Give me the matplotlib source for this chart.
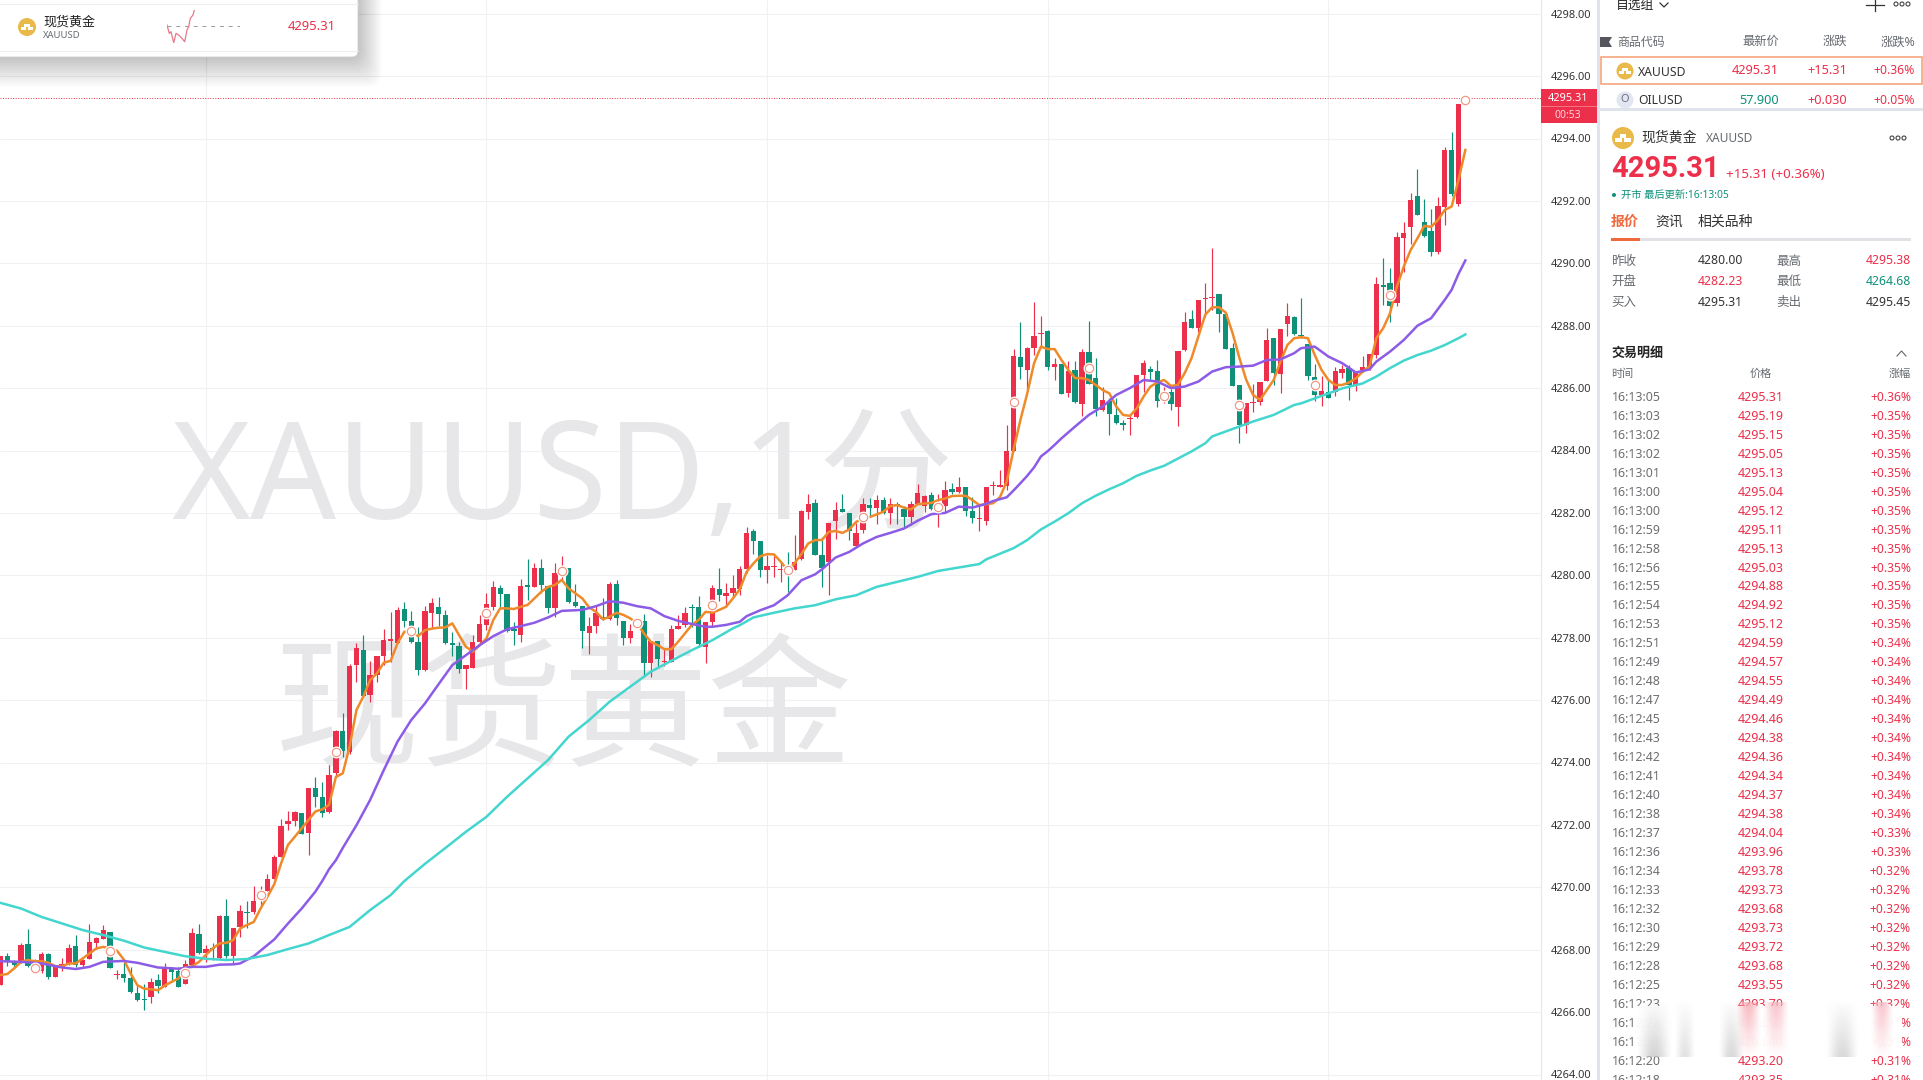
"""
plot.py
-------
Static recreation of a XAUUSD 1-minute candlestick screen with a quote side panel.
"""
import numpy as np
import matplotlib
matplotlib.use("Agg")
import matplotlib.pyplot as plt
from matplotlib.patches import Rectangle, Circle, FancyBboxPatch

W, H = 1923, 1080
BASE = 4000

# candles, one per minute, price minus BASE
opens = [
    266.86,267.79,267.61,267.58,268.18,267.63,267.32,267.86,267.13,267.43,
    267.54,268.11,267.52,267.70,268.22,268.35,268.56,267.19,267.22,267.09,
    266.60,266.42,266.49,267.02,266.81,267.40,267.32,266.90,267.51,268.49,
    267.88,268.05,267.75,269.08,267.79,268.73,269.22,269.20,269.70,269.89,
    270.28,270.98,272.04,272.14,272.37,271.75,273.17,272.88,272.42,273.65,
    275.01,274.35,277.12,277.60,276.16,276.80,277.41,277.90,277.82,278.92,
    278.53,277.86,276.96,278.80,278.99,278.73,277.82,277.73,277.01,277.02,
    277.86,278.41,278.99,279.58,279.40,278.27,278.08,279.69,279.61,280.23,
    279.67,278.94,280.19,280.22,279.13,279.01,278.16,278.37,278.65,278.59,
    279.72,278.54,277.98,278.45,278.54,277.20,277.89,277.22,277.23,278.29,
    278.41,278.99,278.97,277.71,278.51,279.55,279.35,279.42,279.55,280.19,
    281.42,281.09,280.17,280.28,280.17,280.19,280.17,280.51,282.04,282.32,
    280.65,280.43,281.75,282.14,282.01,280.93,281.45,282.24,282.15,282.41,
    282.00,282.27,282.14,281.87,282.30,282.22,282.57,282.15,282.22,282.76,
    282.66,282.82,282.06,281.81,281.75,282.86,282.83,282.87,284.00,287.00,
    286.58,287.30,287.74,287.84,286.69,286.78,285.85,286.58,285.49,287.16,
    286.31,285.30,285.59,285.14,284.88,285.00,285.06,286.42,286.61,286.55,
    285.83,285.89,285.38,287.22,288.22,287.92,288.86,288.89,289.02,288.38,
    287.28,286.10,284.82,285.51,285.57,286.24,287.61,286.44,288.04,288.29,
    287.70,287.40,286.35,285.78,285.88,285.89,286.48,286.65,286.10,286.57,
    286.66,287.06,289.32,289.36,288.72,290.82,291.17,292.16,291.31,291.04,
    290.37,291.81,293.63,291.90,
]
closes = [
    267.79,267.61,267.52,268.15,267.47,267.67,267.86,267.11,267.43,267.54,
    268.07,267.52,267.67,268.24,268.36,268.62,267.42,267.22,267.09,266.64,
    266.38,266.39,266.96,266.85,267.41,267.28,266.81,267.54,268.52,267.90,
    268.01,268.03,269.08,267.79,268.69,269.23,269.19,269.55,269.82,270.27,
    270.96,271.97,272.12,272.40,271.72,273.17,272.90,272.37,273.60,275.02,
    274.38,277.09,277.68,276.14,276.80,277.41,277.92,277.96,278.89,278.54,
    277.85,276.98,278.85,279.10,278.76,277.82,277.77,276.99,277.11,277.87,
    278.44,279.08,279.61,279.40,278.22,278.22,279.66,279.61,280.22,279.69,
    278.94,280.08,280.24,279.15,279.01,278.22,278.37,278.78,278.61,279.72,
    278.64,278.00,278.22,278.49,277.20,277.90,277.33,277.25,278.28,278.37,
    278.78,278.94,277.79,278.49,279.58,279.37,279.42,279.58,280.19,281.34,
    281.11,280.17,280.29,280.31,280.21,280.14,280.44,282.07,282.28,280.65,
    280.22,281.69,282.09,282.04,281.43,281.34,282.28,282.17,282.41,282.00,
    282.28,282.21,281.87,282.30,282.65,282.54,282.12,282.22,282.75,282.68,
    282.82,282.07,281.85,281.83,282.82,282.89,282.91,283.97,287.03,286.69,
    287.29,287.67,287.77,286.69,286.76,285.82,286.55,285.54,287.17,286.13,
    285.33,285.62,285.17,284.87,284.83,285.04,286.42,286.81,286.53,285.59,
    285.89,285.49,287.19,288.11,287.94,288.83,288.89,288.92,288.38,287.26,
    286.08,284.82,285.53,285.54,286.19,287.54,286.48,287.89,288.31,287.74,
    287.67,286.39,285.78,285.91,285.69,286.55,286.61,286.10,286.53,286.68,
    287.09,289.33,289.25,288.64,290.83,290.96,292.03,291.55,290.88,290.37,
    291.84,293.63,292.22,295.11,
]
highs = [
    267.79,267.88,267.67,268.22,268.65,267.69,267.92,267.88,267.47,267.72,
    268.17,268.47,267.69,268.82,268.41,268.80,268.56,267.35,267.67,267.43,
    266.83,266.90,267.08,267.21,267.56,267.43,267.45,267.67,268.68,268.82,
    268.14,268.20,269.11,269.64,268.71,269.43,269.57,270.04,270.04,270.43,
    271.04,272.18,272.43,272.46,272.37,273.17,273.54,273.36,273.92,275.04,
    275.60,277.16,277.84,278.08,277.26,277.41,278.27,278.83,278.97,279.15,
    278.85,278.35,279.01,279.26,279.31,278.89,278.19,277.85,277.11,278.08,
    278.73,279.42,279.82,279.69,279.40,278.51,279.87,280.51,280.40,280.51,
    279.67,280.41,280.62,280.22,279.72,279.01,278.65,279.05,279.26,279.79,
    279.85,278.54,278.44,278.57,278.76,277.90,277.89,277.66,278.41,278.73,
    278.99,279.08,279.33,278.49,279.69,280.22,279.74,280.01,280.30,281.55,
    281.50,281.09,280.65,280.68,280.38,280.75,281.29,282.09,282.60,282.43,
    281.23,281.69,282.36,282.60,282.01,281.68,282.49,282.49,282.57,282.52,
    282.49,282.36,282.22,282.39,282.94,282.57,282.68,282.60,283.03,282.97,
    283.14,282.82,282.50,282.25,282.82,283.03,283.37,284.82,287.25,288.11,
    287.33,288.77,288.31,287.86,286.96,286.78,286.88,286.88,287.25,288.16,
    286.96,286.03,285.67,285.67,284.98,285.14,286.42,286.90,286.71,286.90,
    286.05,285.96,287.19,288.45,288.51,288.83,289.38,290.48,289.02,288.38,
    287.46,286.10,285.53,286.13,286.19,287.92,287.61,287.89,288.72,288.31,
    288.88,287.40,286.77,286.39,286.26,286.69,286.74,286.74,286.53,287.03,
    287.09,289.57,290.18,289.84,291.00,291.33,292.24,293.02,292.06,291.74,
    292.11,293.74,294.22,295.11,
]
lows = [
    266.86,267.47,267.40,267.58,267.43,267.56,267.26,267.07,267.13,267.32,
    267.52,267.43,267.43,267.70,268.01,268.33,267.40,267.07,266.97,266.62,
    266.36,266.06,266.28,266.62,266.79,266.97,266.79,266.90,267.43,267.86,
    267.61,267.67,267.69,267.75,267.56,268.41,268.71,269.16,269.43,269.89,
    270.28,270.98,271.84,271.97,271.70,271.04,272.58,272.26,272.39,273.52,
    274.19,274.27,276.59,276.14,275.95,276.59,277.12,277.23,277.82,278.35,
    277.82,276.80,276.94,278.30,278.37,277.80,277.41,276.88,276.34,277.02,
    277.82,278.24,278.89,278.97,278.19,277.76,277.86,279.21,279.61,279.42,
    278.78,278.67,279.85,279.12,278.99,277.66,277.48,278.14,278.57,278.57,
    278.41,277.76,277.82,278.41,276.73,276.73,277.07,277.09,277.23,278.29,
    278.35,278.35,277.71,277.18,278.33,279.19,279.01,279.26,279.37,280.06,
    280.68,279.95,279.76,279.95,279.79,279.47,280.17,280.49,281.82,280.65,
    279.63,279.36,281.15,282.04,281.13,280.91,281.36,281.90,281.64,281.98,
    281.64,281.64,281.55,281.61,282.30,282.04,282.09,281.55,282.04,282.61,
    282.65,281.90,281.69,281.43,281.61,282.57,282.82,282.73,284.00,286.28,
    285.97,287.06,287.28,286.58,286.26,285.82,285.70,285.51,285.11,286.13,
    285.11,285.28,284.50,284.85,284.66,284.50,285.03,285.86,286.26,285.38,
    285.51,285.30,284.79,287.20,287.92,287.81,288.27,288.51,287.81,287.26,
    286.08,284.23,284.55,285.25,285.46,286.24,286.10,285.83,287.68,287.70,
    287.60,286.26,285.60,285.43,285.69,285.75,286.31,285.62,285.91,286.53,
    286.58,286.95,288.66,288.13,288.63,289.73,290.62,291.55,290.85,290.24,
    290.30,291.23,292.16,291.84,
]

# fast average, read bar by bar (one extra point past the last candle)
ma_fast = [
    267.19,267.22,267.40,267.61,267.67,267.63,267.63,267.58,267.47,267.47,
    267.56,267.56,267.72,267.88,268.04,268.09,268.04,267.97,267.69,267.24,
    266.86,266.75,266.73,266.70,266.85,266.97,267.08,267.43,267.47,267.61,
    267.83,268.04,268.20,268.22,268.31,268.68,268.79,268.89,269.32,269.70,
    270.10,270.77,271.36,271.62,271.89,272.16,272.43,272.50,272.64,273.54,
    273.65,274.51,275.68,276.11,276.64,276.86,277.20,277.26,277.82,278.19,
    278.21,278.05,278.24,278.29,278.32,278.33,278.46,278.08,277.71,277.55,
    277.76,277.98,278.57,278.94,278.94,278.92,278.99,279.05,279.26,279.47,
    279.63,279.69,279.85,279.58,279.42,279.26,278.97,278.83,278.59,278.67,
    278.80,278.73,278.62,278.46,278.14,277.87,277.76,277.63,277.63,277.87,
    278.14,278.41,278.57,278.83,278.80,278.89,278.99,279.26,279.55,280.11,
    280.38,280.61,280.68,280.67,280.43,280.17,280.38,280.68,281.02,281.13,
    281.13,281.39,281.42,281.36,281.47,281.71,281.82,281.87,281.95,282.04,
    282.22,282.25,282.17,282.11,282.28,282.30,282.32,282.41,282.46,282.54,
    282.55,282.55,282.41,282.25,282.28,282.31,282.50,283.00,284.02,284.98,
    285.83,286.80,287.33,287.25,287.25,286.90,286.58,286.32,286.32,286.26,
    286.10,285.94,285.83,285.41,285.14,285.11,285.35,285.73,286.05,286.18,
    286.26,286.07,286.10,286.48,286.96,287.65,288.35,288.59,288.59,288.42,
    287.76,286.96,286.26,285.78,285.62,285.94,286.26,286.85,287.38,287.60,
    287.63,287.60,287.06,286.58,286.26,286.10,286.10,286.18,286.31,286.53,
    286.69,287.60,287.92,288.40,289.25,289.89,290.42,290.80,291.20,291.17,
    291.39,291.71,291.82,292.67,293.63,
]

# medium average, read where the line bends
ma_mid_idx = [
    0,3,6,9,11,13,15,18,20,23,26,28,30,32,34,35,37,39,40,42,44,46,47,48,49,50,
    52,54,56,58,60,62,64,66,68,70,72,74,76,78,80,82,85,87,89,91,93,95,97,99,
    101,103,104,106,108,109,111,113,115,117,119,120,122,124,126,128,130,132,
    134,136,138,140,142,144,145,146,147,148,149,150,151,152,153,154,155,157,
    159,161,163,165,167,169,171,173,175,177,179,181,183,185,187,189,190,192,
    194,196,198,200,201,203,205,207,209,211,212,213,214,
]
ma_mid = [
    267.63,267.61,267.56,267.43,267.38,267.45,267.61,267.64,267.58,267.43,
    267.39,267.45,267.45,267.52,267.53,267.56,267.79,268.15,268.33,268.84,
    269.32,269.86,270.20,270.58,270.87,271.26,
    271.99,272.80,273.76,274.67,275.36,275.89,276.51,277.12,277.44,277.76,
    278.05,278.27,278.37,278.48,278.65,278.86,278.89,279.01,279.17,279.12,
    279.01,278.94,278.69,278.54,278.44,278.35,278.35,278.41,278.51,278.69,
    278.88,279.04,279.36,279.84,280.03,280.19,280.57,280.75,281.02,281.23,
    281.36,281.50,281.75,281.96,282.00,282.20,282.17,282.29,282.38,282.44,
    282.50,282.72,282.95,283.19,283.46,283.81,283.98,284.18,284.39,284.77,
    285.14,285.41,285.78,286.00,286.26,286.21,286.00,286.05,286.21,286.53,
    286.67,286.69,286.72,286.90,286.92,287.12,287.28,287.33,287.01,286.80,
    286.50,286.60,286.85,287.17,287.54,288.00,288.24,288.83,289.15,289.66,
    290.09,
]

# slow average
ma_slow_idx = [
    0,3,6,9,12,15,18,21,24,27,30,33,36,39,42,45,48,51,54,57,59,62,65,68,71,74,
    77,80,83,86,89,92,95,98,101,104,107,108,110,113,116,119,122,125,128,131,
    134,137,140,143,144,146,148,150,152,154,156,158,160,162,164,166,168,170,
    172,174,176,177,180,183,186,189,190,193,196,199,201,203,205,207,209,211,
    213,214,
]
ma_slow = [
    269.50,269.32,269.05,268.84,268.63,268.47,268.29,268.07,267.93,267.79,
    267.71,267.67,267.70,267.83,268.02,268.20,268.47,268.73,269.27,269.75,
    270.20,270.75,271.26,271.78,272.26,272.90,273.49,274.08,274.83,275.36,
    275.95,276.43,276.91,277.26,277.60,277.92,278.30,278.40,278.65,278.80,
    278.94,279.04,279.23,279.36,279.63,279.79,279.95,280.14,280.25,280.36,
    280.51,280.69,280.87,281.13,281.47,281.72,281.99,282.31,282.55,282.76,
    282.95,283.19,283.36,283.51,283.74,283.97,284.23,284.45,284.69,284.93,
    285.14,285.46,285.51,285.75,285.99,286.15,286.37,286.64,286.88,287.06,
    287.20,287.38,287.60,287.72,
]

# ring markers the platform puts on every 11th bar
ring_idx = [5,16,27,38,49,60,71,82,93,104,115,126,137,148,159,170,181,192,203,214]
ring_price = [267.42,267.97,267.26,269.76,274.35,278.21,278.78,280.14,278.47,279.05,
              280.17,281.87,282.18,285.54,286.66,285.75,285.46,286.10,289.00,295.24]

grid_bars = [30, 71, 112, 153, 194]
price_ticks = list(range(4264, 4299, 2))
last_price = 4295.31

# small sparkline in the popup
spark_t = [0, 2.3, 4, 6.7, 9, 11.7, 15, 17.7, 20, 21.7, 23.3, 26, 27.3]
spark_p = [4281.2, 4273.4, 4275.0, 4264.7, 4273.4, 4271.9, 4268.7, 4265.6,
           4276.6, 4279.7, 4287.5, 4290.6, 4295.3]
prev_close = 4280.0

# trade list
trade_time = ["16:13:05","16:13:03","16:13:02","16:13:02","16:13:01","16:13:00","16:13:00",
              "16:12:59","16:12:58","16:12:56","16:12:55","16:12:54","16:12:53","16:12:51",
              "16:12:49","16:12:48","16:12:47","16:12:45","16:12:43","16:12:42","16:12:41",
              "16:12:40","16:12:38","16:12:37","16:12:36","16:12:34","16:12:33","16:12:32",
              "16:12:30","16:12:29","16:12:28","16:12:25","16:12:23","16:12:22","16:12:21",
              "16:12:20","16:12:18"]
trade_price = ["4295.31","4295.19","4295.15","4295.05","4295.13","4295.04","4295.12",
               "4295.11","4295.13","4295.03","4294.88","4294.92","4295.12","4294.59",
               "4294.57","4294.55","4294.49","4294.46","4294.38","4294.36","4294.34",
               "4294.37","4294.38","4294.04","4293.96","4293.78","4293.73","4293.68",
               "4293.73","4293.72","4293.68","4293.55","4293.70","4293.50","4293.40",
               "4293.20","4293.35"]
trade_pct = ["+0.36%"] + ["+0.35%"] * 12 + ["+0.34%"] * 10 + ["+0.33%"] * 2 + \
            ["+0.32%"] * 8 + ["+0.31%"] * 4

RED = "#ec2f4a"
GREEN = "#0f9079"
GRAY = "#666a70"
GOLD = "#e9b949"

plt.rcParams["font.family"] = ["Noto Sans", "Noto Sans CJK SC", "DejaVu Sans"]

fig = plt.figure(figsize=(W / 100, H / 100), dpi=100, facecolor="white")


def px_axes(left, top, right, bottom, **kw):
    return fig.add_axes([left / W, 1 - bottom / H, (right - left) / W, (bottom - top) / H], **kw)


# main chart, the limits come from where the ticks sit on screen
ax = px_axes(0, 0, 1541, H)
bar_px = 6.845
ax.set_xlim(-0.5 / bar_px, (1541 - 0.5) / bar_px)
ax.set_ylim(4298 - (H - 13.7) / 31.2, 4298 + 13.7 / 31.2)

o = np.array(opens) + BASE
c = np.array(closes) + BASE
hi = np.array(highs) + BASE
lo = np.array(lows) + BASE
bars = np.arange(len(o))
col = np.where(c >= o, RED, GREEN)

ax.set_yticks(price_ticks)
ax.set_yticklabels([f"{p:.2f}" for p in price_ticks], fontsize=7.9, color="#333333")
ax.yaxis.tick_right()
ax.tick_params(axis="y", length=0, pad=7)
ax.set_xticks([])
for name, sp in ax.spines.items():
    sp.set_visible(name == "right")
ax.spines["right"].set_color("#e6e6ea")
ax.spines["right"].set_linewidth(0.8)

ax.hlines(price_ticks, ax.get_xlim()[0], ax.get_xlim()[1], color="#f1f1f4", lw=0.8, zorder=0)
ax.vlines(grid_bars, *ax.get_ylim(), color="#f1f1f4", lw=0.8, zorder=0)

ax.text(0.1115, 0.552, "XAUUSD,1分", transform=ax.transAxes, fontsize=97, color="#e7e7e9",
        va="center", ha="left", zorder=1)
ax.text(0.178, 0.339, "现货黄金", transform=ax.transAxes, fontsize=104, color="#e7e7e9",
        va="center", ha="left", zorder=1, family=["Noto Sans CJK SC"])

ax.vlines(bars, lo, hi, colors=col, lw=0.85, zorder=3)
ax.bar(bars, np.maximum(np.abs(c - o), 0.03), bottom=np.minimum(o, c), width=0.78,
       color=col, linewidth=0, zorder=3)

ax.plot(np.arange(len(ma_fast)), np.array(ma_fast) + BASE, color="#ef8a2a", lw=1.8, zorder=4)
ax.plot(ma_mid_idx, np.array(ma_mid) + BASE, color="#8c5ce6", lw=1.8, zorder=4)
ax.plot(ma_slow_idx, np.array(ma_slow) + BASE, color="#43d6cf", lw=1.8, zorder=4)

ax.axhline(last_price, color=RED, lw=0.7, ls=(0, (1, 1.6)), zorder=4)
rings = np.array(ring_price) + BASE
ax.scatter(ring_idx, rings, s=74, color="white", linewidth=0, zorder=5)
ax.scatter(ring_idx, rings, s=36, facecolor="white", edgecolor="#ef8f7c", linewidth=0.8, zorder=6)

# everything else sits in a pixel overlay
ov = px_axes(0, 0, W, H, zorder=5)
ov.set_xlim(0, W)
ov.set_ylim(H, 0)
ov.axis("off")
ov.patch.set_alpha(0)


def put(x, y, s, size=8.6, color="#333333", ha="left", weight="normal", z=10, family=None):
    t = ov.text(x, y + 1, s, fontsize=size, color=color, ha=ha, va="center", fontweight=weight, zorder=z)
    if family:
        t.set_family(family)


def coin(x, y, r, z=10):
    ov.add_patch(Circle((x, y), r, color=GOLD, lw=0, zorder=z))
    u = r / 4.5
    for dx, dy in [(-1.7, 0.9), (1.7, 0.9), (0, -1.0)]:
        ov.add_patch(Rectangle((x + (dx - 1.4) * u, y + (dy - 0.7) * u), 2.8 * u, 1.5 * u,
                               color="white", lw=0, zorder=z + 0.1))


def dots(x, y, z=10):
    for dx in (-6, 0, 6):
        ov.add_patch(Circle((x + dx, y), 2, facecolor="white", edgecolor="#444444", lw=0.8, zorder=z))


# price tag on the axis
ov.add_patch(Rectangle((1541, 89), 55.5, 34, color=RED, lw=0, zorder=8))
ov.plot([1541, 1596], [106, 106], color="#f7808f", lw=0.6, zorder=9)
put(1568, 97.5, "4295.31", size=7.9, color="white", ha="center")
put(1568, 114.5, "00:53", size=7.5, color="#ffd5da", ha="center")

# right panel
ov.add_patch(Rectangle((1597, 0), W - 1597, H, color="white", lw=0, zorder=2))
ov.add_patch(Rectangle((1597, 0), 3.2, H, color="#dfe3ec", lw=0, zorder=3))
ov.add_patch(Rectangle((1600, 107.5), W - 1600, 3.5, color="#dfe3ec", lw=0, zorder=7))

put(1616, 4, "自选组", size=9.2, color="#222222")
ov.plot([1660, 1664, 1668], [3, 7, 3], color="#333333", lw=0.9, zorder=10)
ov.plot([1866, 1884], [5, 5], color="#333333", lw=0.9, zorder=10)
ov.plot([1875, 1875], [0, 11], color="#333333", lw=0.9, zorder=10)
dots(1902, 4)

ov.fill([1600, 1612, 1609, 1612, 1600], [37, 37, 42, 47, 47], color="#55565e", lw=0, zorder=10)
put(1617, 41, "商品代码", size=8.6, color=GRAY)
put(1779, 40, "最新价", size=8.8, color=GRAY, ha="right")
put(1847, 40, "涨跌", size=8.8, color=GRAY, ha="right")
put(1915, 41, "涨跌%", size=8.8, color=GRAY, ha="right")

ov.add_patch(Rectangle((1601, 57), 321, 27, facecolor="white", edgecolor="#f5a67e", lw=1.2, zorder=5))
coin(1625, 71, 8.5)
put(1638, 71, "XAUUSD", size=8.8, color="#333333")
put(1779, 70, "4295.31", size=9.2, color=RED, ha="right")
put(1847, 70, "+15.31", size=9.2, color=RED, ha="right")
put(1915, 70, "+0.36%", size=8.8, color=RED, ha="right")

ov.add_patch(Circle((1625, 100), 8.5, color="#e2e6f0", lw=0, zorder=6))
put(1625, 98, "O", size=8, color="#6a6f80", ha="center")
put(1638, 100, "OILUSD", size=8.8, color="#333333")
put(1779, 99, "57.900", size=9.2, color=GREEN, ha="right")
put(1847, 99, "+0.030", size=9.2, color=RED, ha="right")
put(1915, 99, "+0.05%", size=8.8, color=RED, ha="right")

coin(1623, 138, 11)
put(1641, 137, "现货黄金", size=10, color="#333333")
put(1706, 138, "XAUUSD", size=8.6, color=GRAY)
dots(1898, 138)
put(1611, 168, "4295.31", size=21, color=RED, weight="bold", family="Roboto")
put(1726, 173, "+15.31 (+0.36%)", size=9.6, color=RED)
ov.add_patch(Circle((1614, 195), 2, color=GREEN, lw=0, zorder=10))
put(1621, 194, "开市 最后更新:16:13:05", size=7.4, color=GREEN)

put(1611, 221, "报价", size=10, color="#f0693c", weight="bold")
put(1655, 221, "资讯", size=10, color="#333333")
put(1698, 221, "相关品种", size=10, color="#333333")
ov.add_patch(Rectangle((1611, 237.5), 300, 3.2, color="#e2e2e6", lw=0, zorder=9))
ov.add_patch(Rectangle((1611, 237.5), 29, 3.2, color="#f0693c", lw=0, zorder=10))

for y, l1, v1, c1, l2, v2, c2 in [
    (260, "昨收", "4280.00", "#333333", "最高", "4295.38", RED),
    (280.5, "开盘", "4282.23", RED, "最低", "4264.68", GREEN),
    (301.5, "买入", "4295.31", "#333333", "卖出", "4295.45", "#333333"),
]:
    put(1611, y, l1, size=9, color=GRAY)
    put(1698, y, v1, size=8.8, color=c1)
    put(1776, y, l2, size=9, color=GRAY)
    put(1911, y, v2, size=8.8, color=c2, ha="right")

put(1611, 352, "交易明细", size=9.4, color="#222222", weight="bold")
ov.plot([1897, 1901.5, 1906], [356, 351, 356], color="#666666", lw=0.8, zorder=10)
put(1611, 373, "时间", size=8, color=GRAY)
put(1761, 373, "价格", size=8, color=GRAY, ha="center")
put(1911, 373, "涨幅", size=8, color=GRAY, ha="right")

for i, (t, p, q) in enumerate(zip(trade_time, trade_price, trade_pct)):
    y = 396.2 + i * 18.98
    put(1612, y, t, size=8.9, color="#6e6e72")
    put(1761, y, p, size=9, color=RED, ha="center")
    put(1911, y, q, size=8.7, color=RED, ha="right")

# the blurred stamp over the list
ov.add_patch(Rectangle((1634, 1006), 268, 50, color="white", alpha=0.97, lw=0, zorder=11))
for x0, x1, rgb in [(1636, 1673, (0.78, 0.78, 0.78)), (1674, 1696, (0.85, 0.85, 0.85)),
                    (1718, 1745, (0.80, 0.80, 0.80)), (1735, 1762, (0.97, 0.66, 0.70)),
                    (1762, 1790, (0.97, 0.72, 0.76)), (1825, 1860, (0.80, 0.80, 0.80)),
                    (1870, 1894, (0.97, 0.72, 0.76))]:
    grad = np.zeros((32, 24, 4))
    grad[..., :3] = rgb
    across = np.sin(np.linspace(0, np.pi, 24)) ** 1.5
    if rgb[1] < rgb[0]:
        grad[..., 3] = np.outer(np.linspace(0.8, 0.03, 32), across)
    else:
        grad[..., 3] = np.outer(np.linspace(0.05, 0.75, 32), across)
    ov.imshow(grad, extent=(x0, x1, 1057, 1002), aspect="auto", zorder=12, interpolation="bilinear")
ov.set_xlim(0, W)
ov.set_ylim(H, 0)

# popup in the top-left corner
for i in range(30):
    grow = 30 - i
    ov.add_patch(FancyBboxPatch((-40, -40), 398 + grow * 0.8, 97 + grow, boxstyle="round,pad=0,rounding_size=14",
                                facecolor="black", alpha=0.007, lw=0, zorder=13))
ov.add_patch(FancyBboxPatch((-30, -30), 388, 87, boxstyle="round,pad=0,rounding_size=6",
                            facecolor="white", edgecolor="#cfcfcf", lw=0.6, zorder=14))
ov.plot([0, 358], [3.5, 3.5], color="#ececec", lw=0.7, zorder=15)
ov.plot([0, 358], [50.5, 50.5], color="#ececec", lw=0.7, zorder=15)
coin(27, 27, 9, z=15)
put(43, 21, "现货黄金", size=9.4, color="#222222", z=15)
put(43, 35, "XAUUSD", size=6.8, color=GRAY, z=15)
put(336, 26, "4295.31", size=9.4, color=RED, ha="right", z=15)

sp = px_axes(167, 10, 240, 42.7, zorder=7)
sp.set_xlim(0, 73)
sp.set_ylim(min(spark_p), max(spark_p))
sp.axis("off")
sp.patch.set_alpha(0)
sp.hlines(prev_close, 0, 73, color="#999999", lw=0.7, ls=(0, (4, 5)))
sp.plot(spark_t, spark_p, color="#e8778a", lw=0.9)

fig.savefig("out.png", dpi=100)
